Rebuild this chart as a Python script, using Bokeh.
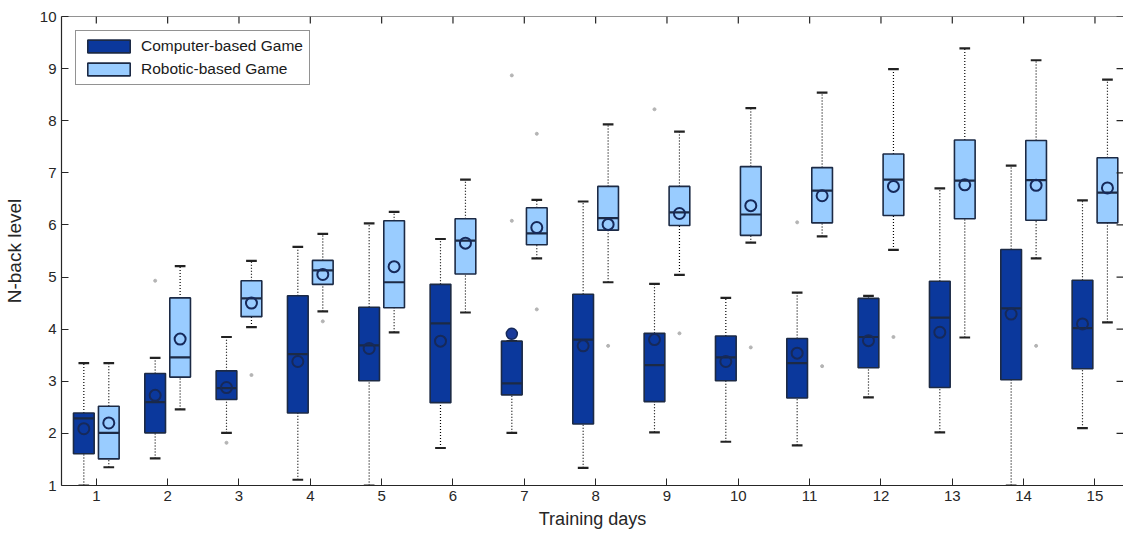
from bokeh.plotting import figure
from bokeh.models import ColumnDataSource, FixedTicker, Range1d, Span
from bokeh.transform import dodge
from bokeh.embed import file_html
from bokeh.resources import INLINE

# ---------------- data ----------------
days = list(range(1, 16))
day_labels = [str(d) for d in days]
y_ticks = list(range(1, 11))

# Computer-based Game (dark)
comp_lower  = [1.00, 1.52, 2.01, 1.11, 1.00, 1.72, 2.01, 1.34, 2.02, 1.84, 1.77, 2.69, 2.02, 1.00, 2.10]
comp_q1     = [1.61, 2.01, 2.65, 2.39, 3.01, 2.59, 2.74, 2.18, 2.61, 3.01, 2.68, 3.26, 2.88, 3.03, 3.24]
comp_median = [2.29, 2.60, 2.87, 3.52, 3.69, 4.11, 2.96, 3.80, 3.31, 3.46, 3.35, 3.85, 4.22, 4.40, 4.02]
comp_q3     = [2.39, 3.15, 3.20, 4.64, 4.42, 4.86, 3.77, 4.67, 3.92, 3.87, 3.82, 4.59, 4.92, 5.53, 4.94]
comp_upper  = [3.35, 3.45, 3.85, 5.58, 6.03, 5.73, 3.77, 6.45, 4.87, 4.60, 4.70, 4.64, 6.70, 7.14, 6.47]
comp_mean   = [2.09, 2.73, 2.88, 3.38, 3.63, 3.77, 3.91, 3.68, 3.80, 3.38, 3.54, 3.78, 3.94, 4.29, 4.10]
comp_mean_outside = [False, False, False, False, False, False, True, False, False, False, False, False, False, False, False]
comp_out_days = [2, 3, 7, 7, 9, 11]
comp_out_vals = [4.93, 1.82, 6.08, 8.87, 8.22, 6.05]

# Robotic-based Game (light)
rob_lower  = [1.35, 2.46, 4.04, 4.34, 3.94, 4.32, 5.36, 4.90, 5.04, 5.66, 5.78, 5.52, 3.84, 5.36, 4.13]
rob_q1     = [1.51, 3.08, 4.24, 4.86, 4.41, 5.06, 5.62, 5.90, 5.99, 5.80, 6.04, 6.18, 6.12, 6.09, 6.04]
rob_median = [2.01, 3.46, 4.59, 5.13, 4.90, 5.70, 5.84, 6.13, 6.24, 6.20, 6.66, 6.87, 6.85, 6.86, 6.62]
rob_q3     = [2.52, 4.60, 4.93, 5.32, 6.08, 6.12, 6.33, 6.74, 6.74, 7.12, 7.10, 7.36, 7.63, 7.62, 7.29]
rob_upper  = [3.35, 5.21, 5.31, 5.83, 6.25, 6.87, 6.48, 7.93, 7.79, 8.24, 8.54, 8.99, 9.39, 9.16, 8.79]
rob_mean   = [2.20, 3.81, 4.50, 5.05, 5.20, 5.65, 5.95, 6.01, 6.22, 6.37, 6.56, 6.74, 6.77, 6.76, 6.71]
rob_out_days = [3, 4, 7, 7, 8, 9, 10, 11, 12, 14]
rob_out_vals = [3.12, 4.15, 4.38, 7.75, 3.68, 3.92, 3.65, 3.29, 3.85, 3.68]

series_names = ["Computer-based Game", "Robotic-based Game"]

# ---------------- style ----------------
DARK = "#0b389c"
LIGHT = "#99ccff"
EDGE = "#1c2a45"
MEAN_EDGE = "#16295a"
TXT = "#262626"
FONT = "Liberation Sans"
OFF = 0.175
BW = 0.29
CAP = 0.15
X0, X1 = 0.512, 15.40
Y0, Y1 = 1, 10

p = figure(width=1123, height=531,
           x_range=Range1d(X0, X1), y_range=Range1d(Y0, Y1),
           output_backend="svg", toolbar_location=None,
           min_border_left=55, min_border_right=0,
           min_border_top=16, min_border_bottom=44)
p.xgrid.visible = False
p.ygrid.visible = False
p.outline_line_color = None
p.background_fill_color = "white"
p.border_fill_color = "white"


def draw_group(off, lower, q1, med, q3, upper, mean, fill, name, out_days, out_vals, mean_fill=None):
    src = ColumnDataSource(dict(day=days, lower=lower, q1=q1, med=med, q3=q3,
                                upper=upper, mean=mean))
    xr = p.x_range
    xc = dodge("day", off, range=xr)
    xl = dodge("day", off - CAP / 2, range=xr)
    xrr = dodge("day", off + CAP / 2, range=xr)
    bl = dodge("day", off - BW / 2, range=xr)
    br = dodge("day", off + BW / 2, range=xr)
    # whiskers
    p.segment(x0=xc, y0="q3", x1=xc, y1="upper", source=src,
              line_color="black", line_dash="1 2", line_width=1.2)
    p.segment(x0=xc, y0="lower", x1=xc, y1="q1", source=src,
              line_color="black", line_dash="1 2", line_width=1.2)
    # caps
    p.segment(x0=xl, y0="upper", x1=xrr, y1="upper", source=src,
              line_color="#222222", line_width=2.2)
    p.segment(x0=xl, y0="lower", x1=xrr, y1="lower", source=src,
              line_color="#222222", line_width=2.2)
    # box
    box = p.vbar(x=xc, width=BW, top="q3", bottom="q1", source=src,
                 fill_color=fill, line_color=EDGE, line_width=1.6,
                 legend_label=name)
    # median
    p.segment(x0=bl, y0="med", x1=br, y1="med", source=src,
              line_color=EDGE, line_width=2.2)
    # mean
    flags = mean_fill if mean_fill is not None else [False] * len(days)
    src_in = ColumnDataSource(dict(day=[d for d, f in zip(days, flags) if not f],
                                   mean=[m for m, f in zip(mean, flags) if not f]))
    p.scatter(x=xc, y="mean", source=src_in, marker="circle", size=11,
              fill_color=None, line_color=MEAN_EDGE, line_width=2)
    if any(flags):
        src_out = ColumnDataSource(dict(day=[d for d, f in zip(days, flags) if f],
                                        mean=[m for m, f in zip(mean, flags) if f]))
        p.scatter(x=xc, y="mean", source=src_out, marker="circle", size=11,
                  fill_color="#1a3a9a", line_color=MEAN_EDGE, line_width=1.5)
    # outliers
    osrc = ColumnDataSource(dict(day=out_days, val=out_vals))
    p.scatter(x=xc, y="val", source=osrc, marker="circle", size=3,
              fill_color="#b4b4b4", line_color="#b4b4b4")
    return box


draw_group(-OFF, comp_lower, comp_q1, comp_median, comp_q3, comp_upper, comp_mean,
           DARK, series_names[0], comp_out_days, comp_out_vals, mean_fill=comp_mean_outside)
draw_group(OFF, rob_lower, rob_q1, rob_median, rob_q3, rob_upper, rob_mean,
           LIGHT, series_names[1], rob_out_days, rob_out_vals)

# ---------------- axes ----------------
for ax in (p.xaxis[0], p.yaxis[0]):
    ax.axis_line_color = TXT
    ax.axis_line_width = 1.2
    ax.major_tick_line_color = TXT
    ax.major_tick_in = 7
    ax.major_tick_out = 0
    ax.minor_tick_line_color = None
    ax.major_label_text_font = FONT
    ax.major_label_text_font_size = "15px"
    ax.major_label_text_color = TXT
    ax.axis_label_text_font = FONT
    ax.axis_label_text_font_style = "normal"
    ax.axis_label_text_color = TXT
    ax.major_label_standoff = 5

p.xaxis[0].ticker = FixedTicker(ticks=days)
p.xaxis[0].major_label_overrides = {d: s for d, s in zip(days, day_labels)}
p.xaxis[0].axis_label = "Training days"
p.xaxis[0].axis_label_text_font_size = "18px"
p.xaxis[0].axis_label_standoff = 5

p.yaxis[0].ticker = FixedTicker(ticks=y_ticks)
p.yaxis[0].axis_label = "N-back level"
p.yaxis[0].axis_label_text_font_size = "19px"
p.yaxis[0].axis_label_standoff = 12

# mirrored box: top line with inward ticks, right-side inward ticks
p.add_layout(Span(location=Y1, dimension="width", line_color=TXT, line_width=1.2))
tick_len_y = 7 * (Y1 - Y0) / 471.0
tick_len_x = 7 * (X1 - X0) / 1068.0
top_src = ColumnDataSource(dict(x=days, y0=[Y1] * len(days), y1=[Y1 - tick_len_y] * len(days)))
p.segment(x0="x", y0="y0", x1="x", y1="y1", source=top_src, line_color=TXT, line_width=1.2)
right_src = ColumnDataSource(dict(y=y_ticks, x0=[X1] * len(y_ticks), x1=[X1 - tick_len_x] * len(y_ticks)))
p.segment(x0="x0", y0="y", x1="x1", y1="y", source=right_src, line_color=TXT, line_width=1.2)

# ---------------- legend ----------------
lg = p.legend[0]
lg.location = "top_left"
lg.margin = 14
lg.padding = 6
lg.spacing = 5
lg.glyph_width = 53
lg.glyph_height = 16
lg.label_standoff = 6
lg.label_text_font = FONT
lg.label_text_font_size = "15.5px"
lg.label_text_color = "#1a1a1a"
lg.border_line_color = TXT
lg.border_line_width = 1.2
lg.background_fill_color = "white"
lg.background_fill_alpha = 1.0

open("out.html", "w").write(file_html(p, INLINE))
